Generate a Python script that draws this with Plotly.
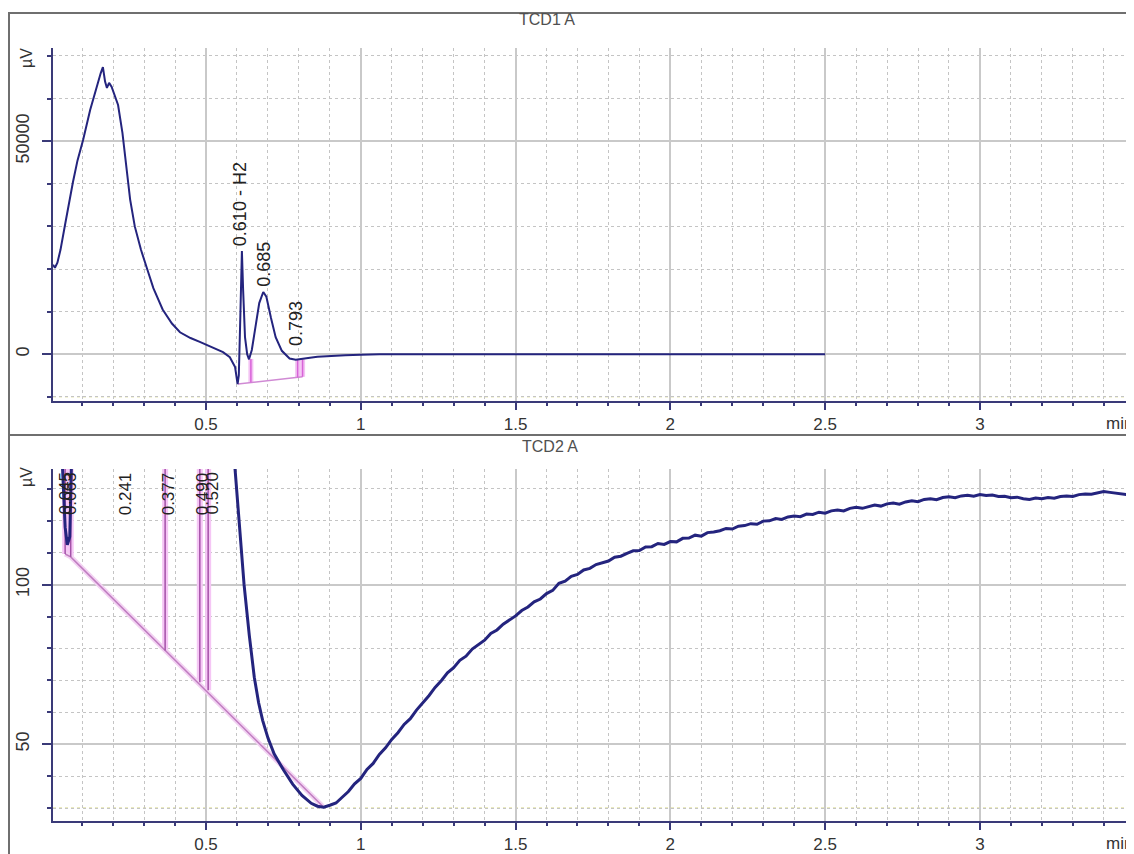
import plotly.graph_objects as go

# page body has an 8px margin, so the figure is sized to the remaining window
OFF = 8
W, H = 1134 - OFF, 854 - OFF


def px(xr):
    return (xr - OFF) / W


def py(yr):
    return 1 - (yr - OFF) / H


# ---------------- data: TCD1 A (top) ----------------
t1 = [0.006, 0.012, 0.02, 0.03, 0.045, 0.06, 0.07, 0.085, 0.103, 0.126, 0.145, 0.16, 0.167,
      0.174, 0.18, 0.187, 0.195, 0.205, 0.216, 0.23, 0.243, 0.255, 0.27, 0.29, 0.31, 0.33,
      0.36, 0.39, 0.416, 0.45, 0.48, 0.52, 0.555, 0.577, 0.594, 0.602, 0.606, 0.611, 0.616,
      0.62, 0.626, 0.633, 0.639, 0.648, 0.66, 0.672, 0.685, 0.695, 0.71, 0.725, 0.745, 0.77,
      0.79, 0.806, 0.83, 0.86, 0.9, 0.95, 1.0, 1.06, 1.5, 2.0, 2.5]
s1 = [21000, 20300, 21500, 24500, 30500, 36500, 40300, 45500, 50300, 57400, 62500, 66000, 67400,
      64000, 62500, 63700, 62800, 60500, 58500, 52000, 44000, 36300, 30000, 24500, 20000, 15500,
      10500, 7200, 5150, 3800, 2900, 1700, 500, -700, -3000, -7000, -5000, 9000, 24200,
      15000, 4000, 0, -1200, 1000, 6500, 12000, 14600, 13500, 8500, 4000, 800, -1000,
      -1300, -1200, -900, -600, -400, -250, -150, 0, 0, 0, 0]

# ---------------- data: TCD2 A (bottom) ----------------
t2 = [0.01, 0.035, 0.045, 0.052, 0.06, 0.066, 0.075, 0.58, 0.594, 0.61, 0.623, 0.64, 0.656,
      0.67, 0.683, 0.70, 0.72, 0.75, 0.78, 0.81, 0.84, 0.86, 0.88,
      0.90, 0.92, 0.94, 0.96, 0.98, 1.00, 1.02, 1.04, 1.06, 1.08, 1.10, 1.12, 1.14, 1.16, 1.18,
      1.20, 1.22, 1.24, 1.26, 1.28, 1.30, 1.32, 1.34, 1.36, 1.38, 1.40, 1.42, 1.44, 1.46, 1.48,
      1.50, 1.52, 1.54, 1.56, 1.58, 1.60, 1.62, 1.64, 1.66, 1.68, 1.70, 1.72, 1.74, 1.76, 1.78,
      1.80, 1.82, 1.84, 1.86, 1.88, 1.90, 1.92, 1.94, 1.96, 1.98, 2.00, 2.02, 2.04, 2.06, 2.08,
      2.10, 2.12, 2.14, 2.16, 2.18, 2.20, 2.22, 2.24, 2.26, 2.28, 2.30, 2.32, 2.34, 2.36, 2.38,
      2.40, 2.42, 2.44, 2.46, 2.48, 2.50, 2.52, 2.54, 2.56, 2.58, 2.60, 2.62, 2.64, 2.66, 2.68,
      2.70, 2.72, 2.74, 2.76, 2.78, 2.80, 2.82, 2.84, 2.86, 2.88, 2.90, 2.92, 2.94, 2.96, 2.98,
      3.00, 3.02, 3.04, 3.06, 3.08, 3.10, 3.12, 3.14, 3.16, 3.18, 3.20, 3.22, 3.24, 3.26, 3.28,
      3.30, 3.32, 3.34, 3.36, 3.38, 3.40, 3.42, 3.44, 3.46, 3.488]
s2 = [150, 140, 118, 112.5, 115, 140, 150, 150, 136, 117, 100, 84, 71,
      63, 57.5, 52, 47, 42, 37.5, 34, 31.5, 30.6, 30.3,
      30.9, 31.6, 33.4, 35.2, 37.6, 39.3, 42.1, 44.0, 46.8, 48.9, 51.5, 53.6, 56.2, 58.0, 60.7,
      62.9, 65.2, 67.8, 69.9, 72.4, 74.0, 76.3, 77.6, 79.8, 81.2, 82.6, 84.7, 85.8, 87.6, 88.9,
      90.2, 91.9, 93.0, 94.6, 95.5, 97.2, 98.2, 100.4, 101.1, 102.6, 103.2, 104.6, 105.1, 106.3, 106.9,
      107.4, 108.6, 108.9, 109.8, 110.6, 110.7, 111.8, 111.9, 112.9, 112.6, 113.5, 113.4, 114.5, 114.6, 115.5,
      115.2, 116.3, 116.5, 116.9, 117.6, 117.4, 118.3, 118.5, 119.1, 118.9, 119.9, 120.0, 120.7, 120.4, 121.2,
      121.5, 121.3, 122.1, 122.0, 122.7, 122.4, 123.1, 123.4, 123.1, 123.9, 124.2, 123.9, 124.5, 124.9, 124.6,
      125.3, 125.6, 125.2, 125.9, 126.3, 126.0, 126.7, 126.9, 126.6, 127.3, 127.5, 127.2, 127.8, 128.0, 127.7,
      128.2, 127.9, 128.1, 127.6, 127.7, 127.2, 127.4, 126.9, 126.7, 127.1, 126.9, 127.3, 127.1, 127.6, 127.8,
      127.6, 128.2, 128.4, 128.3, 128.8, 129.2, 128.9, 128.6, 128.3, 128.0]

# peak labels
top_peak_labels = ["0.610 - H2", "0.685", "0.793"]
top_peak_t = [0.610, 0.685, 0.793]
top_peak_h = [24200, 14600, -1300]
top_label_shift = [3, 3, 12]

bot_peak_labels = ["0.045", "0.063", "0.241", "0.377", "0.490", "0.520"]
bot_peak_t = [0.045, 0.063, 0.241, 0.377, 0.490, 0.520]

# integration baselines / drop lines
top_base_t = [0.603, 0.645, 0.796, 0.812]
top_base_v = [-7000, -6650, -5450, -5300]
top_drop_t = [0.645, 0.796, 0.812]
top_drop_curve = [-1100, -1300, -1200]

bot_base_t = [0.045, 0.063, 0.877]
bot_base_v = [109.6, 108.7, 30.6]
bot_drop_t = [0.045, 0.063, 0.368, 0.480, 0.507]
bot_drop_v = [109.6, 108.7, 79.4, 69.4, 66.9]

X_RANGE = [0.0058, 3.488]
Y1_RANGE = [-11000, 71900]
Y2_RANGE = [25.94, 136.25]

NAVY = "#3a3a78"
CURVE = "#24247e"
FONT = "Liberation Sans, Arial, sans-serif"
TXT = "#333333"

fig = go.Figure()

# ---- top pink integration marks
for t, v0 in zip(top_drop_t, top_drop_curve):
    vb = top_base_v[top_base_t.index(t)]
    fig.add_trace(go.Scatter(x=[t, t], y=[v0, vb], mode="lines",
                             line=dict(color="#f3c2f3", width=5), xaxis="x", yaxis="y",
                             hoverinfo="skip", showlegend=False))
fig.add_trace(go.Scatter(x=top_base_t, y=top_base_v, mode="lines",
                         line=dict(color="#d08ad4", width=1.5), xaxis="x", yaxis="y",
                         hoverinfo="skip", showlegend=False))
for t, v0 in zip(top_drop_t, top_drop_curve):
    vb = top_base_v[top_base_t.index(t)]
    fig.add_trace(go.Scatter(x=[t, t], y=[v0, vb], mode="lines",
                             line=dict(color="#d863d8", width=1.5), xaxis="x", yaxis="y",
                             hoverinfo="skip", showlegend=False))

# ---- top curve
fig.add_trace(go.Scatter(x=t1, y=s1, mode="lines", line=dict(color=CURVE, width=2),
                         xaxis="x", yaxis="y", showlegend=False))

# ---- bottom pink integration marks
for t, vb in zip(bot_drop_t, bot_drop_v):
    fig.add_trace(go.Scatter(x=[t, t], y=[Y2_RANGE[1], vb], mode="lines",
                             line=dict(color="#f5c6f5", width=6), xaxis="x2", yaxis="y2",
                             hoverinfo="skip", showlegend=False))
fig.add_trace(go.Scatter(x=bot_base_t, y=bot_base_v, mode="lines",
                         line=dict(color="#f2d2f2", width=5), xaxis="x2", yaxis="y2",
                         hoverinfo="skip", showlegend=False))
fig.add_trace(go.Scatter(x=bot_base_t, y=bot_base_v, mode="lines",
                         line=dict(color="#c07cc0", width=1.5), xaxis="x2", yaxis="y2",
                         hoverinfo="skip", showlegend=False))
for t, vb in zip(bot_drop_t, bot_drop_v):
    fig.add_trace(go.Scatter(x=[t, t], y=[Y2_RANGE[1], vb], mode="lines",
                             line=dict(color="#a452a8", width=1.5), xaxis="x2", yaxis="y2",
                             hoverinfo="skip", showlegend=False))

# ---- bottom curve
fig.add_trace(go.Scatter(x=t2, y=s2, mode="lines", line=dict(color=CURVE, width=3),
                         xaxis="x2", yaxis="y2", showlegend=False))

xdom = [px(53), px(1131)]
ydom1 = [py(402), py(48)]
ydom2 = [py(823), py(470)]


def xax(anchor):
    return dict(domain=xdom, range=X_RANGE, anchor=anchor, tick0=0, dtick=0.5,
                showgrid=True, gridcolor="#c9c9c9", gridwidth=1.5, zeroline=False,
                showline=True, linecolor=NAVY, linewidth=2,
                ticks="outside", ticklen=7, tickwidth=2, tickcolor=NAVY,
                tickfont=dict(family=FONT, size=17, color=TXT),
                minor=dict(dtick=0.1, tick0=0, showgrid=True, gridcolor="#c4c4c4",
                           griddash="3px,3px", gridwidth=1, ticks="outside", ticklen=3,
                           tickcolor=NAVY, tickwidth=1.5))


def yax(anchor, dom, rng, dtick, mdtick):
    return dict(domain=dom, range=rng, anchor=anchor, tick0=0, dtick=dtick,
                tickformat="d", tickangle=-90, ticklabelstandoff=6,
                showgrid=True, gridcolor="#c9c9c9", gridwidth=1.5, zeroline=False,
                showline=True, linecolor=NAVY, linewidth=2,
                ticks="outside", ticklen=9, tickwidth=2, tickcolor=NAVY,
                tickfont=dict(family=FONT, size=18, color=TXT),
                minor=dict(dtick=mdtick, tick0=0, showgrid=True, gridcolor="#c4c4c4",
                           griddash="3px,3px", gridwidth=1, ticks="outside", ticklen=4,
                           tickcolor=NAVY, tickwidth=1.5))


annotations = []
# titles
annotations.append(dict(text="TCD1 A", x=px(547), y=py(20), xref="paper", yref="paper",
                        xanchor="center", yanchor="middle", showarrow=False,
                        font=dict(family=FONT, size=16, color="#505050")))
annotations.append(dict(text="TCD2 A", x=px(550), y=py(448), xref="paper", yref="paper",
                        xanchor="center", yanchor="middle", showarrow=False,
                        font=dict(family=FONT, size=16, color="#505050")))
# units
for yy in (58, 478):
    annotations.append(dict(text="µV", x=px(27), y=py(yy), xref="paper", yref="paper",
                            xanchor="center", yanchor="middle",
                            textangle=-90, showarrow=False,
                            font=dict(family=FONT, size=16, color=TXT)))
for yy in (424, 845):
    annotations.append(dict(text="min", x=px(1104), y=py(yy), xref="paper", yref="paper",
                            xanchor="left", yanchor="middle", showarrow=False,
                            font=dict(family=FONT, size=17, color=TXT)))
# top peak labels
for lab, t, h, sh in zip(top_peak_labels, top_peak_t, top_peak_h, top_label_shift):
    annotations.append(dict(text=lab, x=t, y=h, xref="x", yref="y", textangle=-90,
                            xanchor="center", yanchor="bottom", yshift=sh, showarrow=False,
                            font=dict(family=FONT, size=18, color="#222")))
# bottom peak labels
for lab, t in zip(bot_peak_labels, bot_peak_t):
    annotations.append(dict(text=lab, x=t, y=py(471), xref="x2", yref="paper",
                            textangle=-90, xanchor="center", yanchor="top", showarrow=False,
                            font=dict(family=FONT, size=17, color="#222")))

shapes = [
    dict(type="rect", xref="paper", yref="paper", x0=px(9), x1=px(1132),
         y0=py(436), y1=py(13), line=dict(color="#6f6f6f", width=2)),
    dict(type="rect", xref="paper", yref="paper", x0=px(9), x1=px(1132),
         y0=-0.05, y1=py(436), line=dict(color="#6f6f6f", width=2)),
    dict(type="line", xref="x domain", yref="y", x0=0, x1=1, y0=-10000, y1=-10000,
         line=dict(color="#d6d67e", width=1, dash="3px,3px"), layer="below"),
    dict(type="line", xref="x2 domain", yref="y2", x0=0, x1=1, y0=30, y1=30,
         line=dict(color="#d6d67e", width=1.2, dash="3px,3px"), layer="below"),
]

fig.update_layout(
    width=W, height=H,
    margin=dict(l=0, r=0, t=0, b=0, pad=0),
    paper_bgcolor="white", plot_bgcolor="white",
    xaxis=xax("y"), yaxis=yax("x", ydom1, Y1_RANGE, 50000, 10000),
    xaxis2=xax("y2"), yaxis2=yax("x2", ydom2, Y2_RANGE, 50, 10),
    annotations=annotations, shapes=shapes, showlegend=False,
)

fig.write_html("out.html", config={"displayModeBar": False})
